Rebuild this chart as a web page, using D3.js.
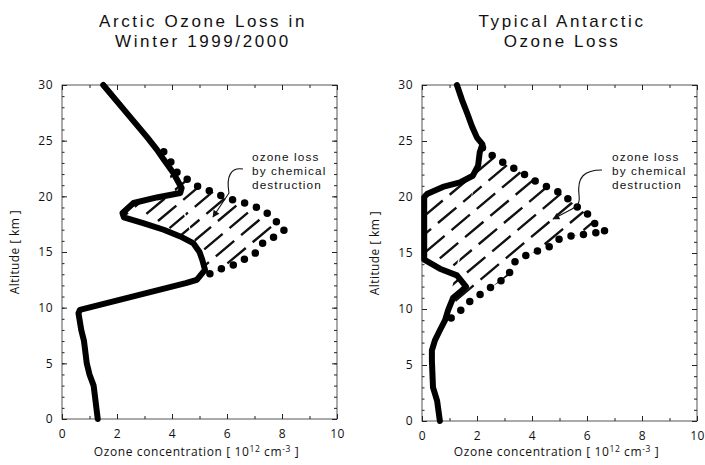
<!DOCTYPE html>
<html>
<head>
<meta charset="utf-8">
<script src="https://cdn.jsdelivr.net/npm/d3@7"></script>
<style>
  body { margin: 0; background: #fff; }
  svg { display: block; }
  text { font-family: "Open Sans", "DejaVu Sans", sans-serif; fill: #111; }
</style>
</head>
<body>
<svg id="chart" width="705" height="465"></svg>
<script>
// ---------- DATA ----------
const xTicks = [0, 2, 4, 6, 8, 10];
const yTicks = [0, 5, 10, 15, 20, 25, 30];

// Arctic (Winter 1999/2000) – measured profile (altitude km, ozone 1e12 cm^-3)
const arcticAlt   = [0, 1, 2, 3, 4, 5, 6, 7, 8, 9.5, 9.8, 12.2, 12.5, 13.4, 14.3, 15.0, 15.8, 16.4, 17.0, 17.6, 18.1, 18.5, 19.4, 19.9, 20.3, 20.75, 22.1, 23.3, 24.2, 25.3, 27.5, 30];
const arcticOzone = [1.3, 1.25, 1.2, 1.15, 1.0, 0.9, 0.85, 0.8, 0.7, 0.6, 0.65, 4.5, 4.9, 5.2, 5.1, 5.0, 4.77, 4.3, 3.7, 2.95, 2.25, 2.2, 2.6, 3.45, 4.3, 4.35, 4.05, 3.7, 3.45, 3.1, 2.35, 1.5];
// Arctic – profile without chemical loss (dotted)
const arcticRefAlt   = [24.0, 23.3, 22.4, 21.8, 21.0, 20.6, 20.1, 19.7, 19.4, 19.0, 18.5, 17.7, 17.0, 16.4, 15.8, 15.0, 14.3, 13.8, 13.5, 13.2, 12.9];
const arcticRefOzone = [3.7, 3.93, 4.05, 4.4, 4.84, 5.27, 5.75, 6.2, 6.65, 7.1, 7.45, 7.8, 8.1, 7.75, 7.3, 7.1, 6.6, 6.2, 5.8, 5.5, 5.25];

// Typical Antarctic – measured profile
const antAlt   = [0, 1.8, 3.0, 5.4, 6.3, 7.2, 8.1, 9.0, 9.9, 11.0, 11.5, 12.0, 13.0, 13.6, 14.4, 14.7, 20.0, 20.3, 20.9, 21.3, 21.9, 22.8, 24.0, 24.7, 25.3, 26.3, 27.5, 28.7, 30];
const antOzone = [0.65, 0.55, 0.4, 0.36, 0.36, 0.47, 0.65, 0.84, 0.95, 1.13, 1.38, 1.6, 1.27, 0.65, 0.08, 0.08, 0.08, 0.2, 0.76, 1.38, 1.85, 2.04, 2.1, 2.2, 2.0, 1.82, 1.64, 1.45, 1.27];
// Antarctic – profile without chemical loss (dotted)
const antRefAlt   = [24.4, 23.6, 23.0, 22.5, 21.9, 21.3, 20.8, 20.3, 19.5, 18.8, 18.2, 17.5, 16.9, 16.8, 16.6, 16.5, 16.2, 15.5, 15.1, 14.7, 14.1, 13.0, 12.3, 11.7, 11.1, 10.5, 9.6, 9.0];
const antRefOzone = [2.2, 2.6, 3.0, 3.4, 3.8, 4.2, 4.65, 5.1, 5.45, 5.8, 6.2, 6.3, 6.7, 6.3, 5.75, 5.3, 4.95, 4.6, 4.1, 3.7, 3.3, 3.15, 2.75, 2.35, 2.0, 1.64, 1.3, 0.95];

const titles = [["Arctic Ozone Loss in", "Winter 1999/2000"], ["Typical Antarctic", "Ozone Loss"]];
const annotation = ["ozone loss", "by chemical", "destruction"];

// ---------- DRAW ----------
const svg = d3.select("#chart");
const defs = svg.append("defs");
defs.append("marker").attr("id", "ah").attr("viewBox", "0 0 10 10")
  .attr("refX", 9).attr("refY", 5).attr("markerWidth", 10).attr("markerHeight", 7)
  .attr("markerUnits", "userSpaceOnUse").attr("orient", "auto")
  .append("path").attr("d", "M0,0 L10,5 L0,10 Z").attr("fill", "#111");

const panels = [
  { x0: 62, x1: 337, y0: 419, y1: 85, solidA: arcticAlt, solidO: arcticOzone, refA: arcticRefAlt, refO: arcticRefOzone,
    title: titles[0], tcx: 203, ylabX: 15, lo: 12.9, hi: 24.0, hatchSpace: 20, txtX: 252,
    arrow: "M243,169 C231,167 226,176 229,193 L213,217" },
  { x0: 422, x1: 697, y0: 421, y1: 85, solidA: antAlt, solidO: antOzone, refA: antRefAlt, refO: antRefOzone,
    title: titles[1], tcx: 562, ylabX: 375, lo: 9.0, hi: 24.4, hatchSpace: 22, txtX: 612,
    arrow: "M602,170 C584,170 577,177 579,195 C580,203 578,206 572,209 L553,219" }
];

panels.forEach((p, i) => {
  const x = d3.scaleLinear().domain([0, 10]).range([p.x0, p.x1]);
  const y = d3.scaleLinear().domain([0, 30]).range([p.y0, p.y1]);
  const g = svg.append("g");

  // titles
  p.title.forEach((t, k) => {
    g.append("text").attr("x", p.tcx).attr("y", 27 + k * 19.5).attr("text-anchor", "middle")
      .style("font-family", "'Liberation Sans', Arial, sans-serif")
      .style("font-size", "17px").style("letter-spacing", "2.6px").text(t);
  });

  // frame
  g.append("rect").attr("x", p.x0).attr("y", p.y1).attr("width", p.x1 - p.x0).attr("height", p.y0 - p.y1)
    .attr("fill", "none").attr("stroke", "#444").attr("stroke-width", 0.9);

  const minor = d3.range(0, 31, 1);
  const minorX = d3.range(0, 11, 1);

  // bottom axis
  g.append("g").attr("transform", `translate(0,${p.y0})`)
    .call(d3.axisBottom(x).tickValues(xTicks).tickSizeInner(-5).tickSizeOuter(0).tickPadding(10));
  g.append("g").attr("transform", `translate(0,${p.y0})`)
    .call(d3.axisBottom(x).tickValues(minorX).tickSizeInner(-3).tickSizeOuter(0).tickFormat(""));
  // top axis
  g.append("g").attr("transform", `translate(0,${p.y1})`)
    .call(d3.axisTop(x).tickValues(xTicks).tickSizeInner(-5).tickSizeOuter(0).tickFormat(""));
  g.append("g").attr("transform", `translate(0,${p.y1})`)
    .call(d3.axisTop(x).tickValues(minorX).tickSizeInner(-3).tickSizeOuter(0).tickFormat(""));
  // left axis
  g.append("g").attr("transform", `translate(${p.x0},0)`)
    .call(d3.axisLeft(y).tickValues(yTicks).tickSizeInner(-5).tickSizeOuter(0).tickPadding(9));
  g.append("g").attr("transform", `translate(${p.x0},0)`)
    .call(d3.axisLeft(y).tickValues(minor).tickSizeInner(-2.5).tickSizeOuter(0).tickFormat(""));
  // right axis
  g.append("g").attr("transform", `translate(${p.x1},0)`)
    .call(d3.axisRight(y).tickValues(yTicks).tickSizeInner(-5).tickSizeOuter(0).tickFormat(""));
  g.append("g").attr("transform", `translate(${p.x1},0)`)
    .call(d3.axisRight(y).tickValues(minor).tickSizeInner(-3).tickSizeOuter(0).tickFormat(""));

  g.selectAll(".domain").remove();
  g.selectAll(".tick line").attr("stroke", "#222").attr("stroke-width", 1);
  g.selectAll(".tick text").style("font-size", "12px").style("font-family", "'Open Sans', sans-serif")
    .style("letter-spacing", "0.5px").attr("fill", "#111");

  // axis labels
  const xl = g.append("text").attr("x", (p.x0 + p.x1) / 2 - 3).attr("y", 456).attr("text-anchor", "middle")
    .style("font-size", "12px").style("letter-spacing", "0.6px");
  xl.append("tspan").text("Ozone concentration [ 10");
  xl.append("tspan").attr("dy", -4).style("font-size", "8.5px").text("12");
  xl.append("tspan").attr("dy", 4).text(" cm");
  xl.append("tspan").attr("dy", -4).style("font-size", "8.5px").text("-3");
  xl.append("tspan").attr("dy", 4).text(" ]");

  g.append("text").attr("transform", `translate(${p.ylabX + 4},${(p.y0 + p.y1) / 2}) rotate(-90)`)
    .attr("text-anchor", "middle").style("font-size", "12px").style("letter-spacing", "0.4px").text("Altitude [ km ]");

  // hatched loss region
  const solidPts = p.solidA.map((a, k) => [p.solidO[k], a]);
  const refPts = p.refA.map((a, k) => [p.refO[k], a]);
  const solidSeg = solidPts.filter(d => d[1] >= p.lo && d[1] <= p.hi);
  const poly = solidSeg.concat(refPts.slice().reverse());
  const clipId = "clip" + i;
  defs.append("clipPath").attr("id", clipId).append("path")
    .attr("d", "M" + poly.map(d => [x(d[0]), y(d[1])].join(",")).join("L") + "Z");

  const hg = g.append("g").attr("clip-path", `url(#${clipId})`);
  const ang = 40 * Math.PI / 180;
  const dx = Math.cos(ang), dy = -Math.sin(ang);
  for (let k = -30; k < 40; k++) {
    const sx = p.x0 + k * p.hatchSpace;
    const sy = p.y0;
    hg.append("line").attr("x1", sx).attr("y1", sy).attr("x2", sx + dx * 600).attr("y2", sy + dy * 600)
      .attr("stroke", "#111").attr("stroke-width", 2.4)
      .attr("stroke-dasharray", "24,9").attr("stroke-dashoffset", (k * 11) % 33);
  }

  // dotted reference profile
  const line = d3.line().x(d => x(d[0])).y(d => y(d[1])).curve(d3.curveLinear);
  g.append("path").datum(refPts).attr("d", line).attr("fill", "none")
    .attr("stroke", "#000").attr("stroke-width", 7.5).attr("stroke-linecap", "round")
    .attr("stroke-dasharray", "0,12.5");

  // solid measured profile
  g.append("path").datum(solidPts).attr("d", line).attr("fill", "none")
    .attr("stroke", "#000").attr("stroke-width", 6).attr("stroke-linejoin", "round").attr("stroke-linecap", "round");

  // annotation
  annotation.forEach((t, k) => {
    g.append("text").attr("x", p.txtX).attr("y", 161 + k * 13.8)
      .style("font-family", "'Liberation Sans', Arial, sans-serif")
      .style("font-size", "11.8px").style("letter-spacing", "1.1px").text(t);
  });
  g.append("path").attr("d", p.arrow).attr("fill", "none").attr("stroke", "#111")
    .attr("stroke-width", 1.1).attr("marker-end", "url(#ah)");
});
</script>
</body>
</html>
